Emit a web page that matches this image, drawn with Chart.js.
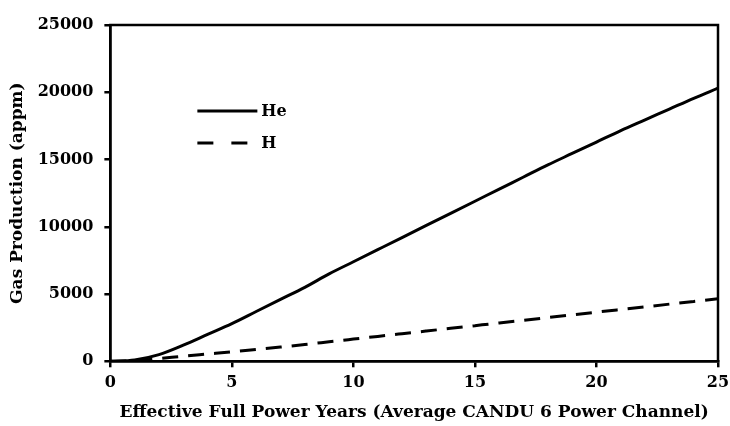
<!DOCTYPE html>
<html>
<head>
<meta charset="utf-8">
<script src="https://cdn.jsdelivr.net/npm/chart.js@4"></script>
<style>
  html, body { margin: 0; padding: 0; background: #fff; }
  #wrap { width: 730px; height: 426px; }
</style>
</head>
<body>
<div id="wrap"><canvas id="gas-chart" width="730" height="426"></canvas></div>
<script>
    // values
    const years = [0, 1, 2, 3, 4, 5, 6, 7, 8, 9, 10, 11, 12, 13, 14, 15, 16, 17, 18, 19, 20, 21, 22, 23, 24, 25];
    const heProd = [0, 100, 500, 1200, 2000, 2800, 3700, 4600, 5500, 6500, 7400, 8300, 9200, 10100, 11000, 11900,
        12800, 13700, 14600, 15450, 16300, 17150, 17950, 18750, 19550, 20300];
    const hProd = [0, 50, 200, 380, 540, 700, 880, 1060, 1250, 1450, 1650, 1850, 2050, 2250, 2450, 2650,
        2850, 3050, 3250, 3450, 3650, 3850, 4050, 4250, 4450, 4650];
    const xTicks = [0, 5, 10, 15, 20, 25];
    const yTicks = [0, 5000, 10000, 15000, 20000, 25000];

    const font = { family: '"DejaVu Serif"', weight: 'bold', size: 16, lineHeight: 1 };
    const titleFont = { family: '"DejaVu Serif"', weight: 'bold', size: 17, lineHeight: 1.1 };

    // box around plot + legend inside the plot
    const frame = {
        id: 'frame',
        afterDraw(chart) {
            const { ctx, chartArea: a } = chart;
            ctx.save();
            ctx.strokeStyle = '#000'; ctx.lineWidth = 2.5;
            ctx.strokeRect(a.left, a.top, a.right - a.left, a.bottom - a.top);
            const lx = a.left + 87, ly1 = a.top + 86, ly2 = a.top + 118;
            ctx.lineWidth = 3; ctx.lineCap = 'butt';
            ctx.beginPath(); ctx.moveTo(lx, ly1); ctx.lineTo(lx + 60, ly1); ctx.stroke();
            ctx.setLineDash([16, 18]);
            ctx.beginPath(); ctx.moveTo(lx, ly2); ctx.lineTo(lx + 50, ly2); ctx.stroke();
            ctx.setLineDash([]);
            ctx.fillStyle = '#000'; ctx.font = 'bold 16px "DejaVu Serif"';
            ctx.textBaseline = 'middle';
            ctx.fillText('He', lx + 64, ly1 + 1);
            ctx.fillText('H', lx + 64, ly2 + 1);
            ctx.restore();
        }
    };

    new Chart(document.getElementById('gas-chart'), {
        type: 'line',
        data: {
            labels: years,
            datasets: [
                { label: 'He', data: years.map((x, i) => ({ x, y: heProd[i] })), borderColor: '#000', borderWidth: 3,
                  pointRadius: 0, cubicInterpolationMode: 'monotone' },
                { label: 'H', data: years.map((x, i) => ({ x, y: hProd[i] })), borderColor: '#000', borderWidth: 3,
                  borderDash: [16, 10], pointRadius: 0, cubicInterpolationMode: 'monotone' }
            ]
        },
        options: {
            responsive: false, animation: false,
            layout: { padding: { top: 25, right: 12, left: 4, bottom: 4 } },
            plugins: { legend: { display: false }, tooltip: { enabled: false } },
            scales: {
                x: {
                    type: 'linear', min: 0, max: 25,
                    afterBuildTicks: s => { s.ticks = xTicks.map(v => ({ value: v })); },
                    afterFit: s => { s.paddingRight = 0; },
                    grid: { drawOnChartArea: false, color: '#000', lineWidth: 2.5, tickLength: 6 },
                    border: { color: '#000', width: 2.5 },
                    ticks: { color: '#000', font, padding: 8, maxRotation: 0 },
                    title: { display: true, text: 'Effective Full Power Years (Average CANDU 6 Power Channel)',
                             color: '#000', font: titleFont, padding: { top: 4, bottom: 0 } }
                },
                y: {
                    min: 0, max: 25000,
                    afterBuildTicks: s => { s.ticks = yTicks.map(v => ({ value: v })); },
                    grid: { drawOnChartArea: false, color: '#000', lineWidth: 2.5, tickLength: 6 },
                    border: { color: '#000', width: 2.5 },
                    ticks: { color: '#000', font, padding: 11, callback: v => String(v) },
                    title: { display: true, text: 'Gas Production (appm)', color: '#000', font: titleFont, padding: { bottom: 0 } }
                }
            }
        },
        plugins: [frame]
    });
</script>
</body>
</html>
